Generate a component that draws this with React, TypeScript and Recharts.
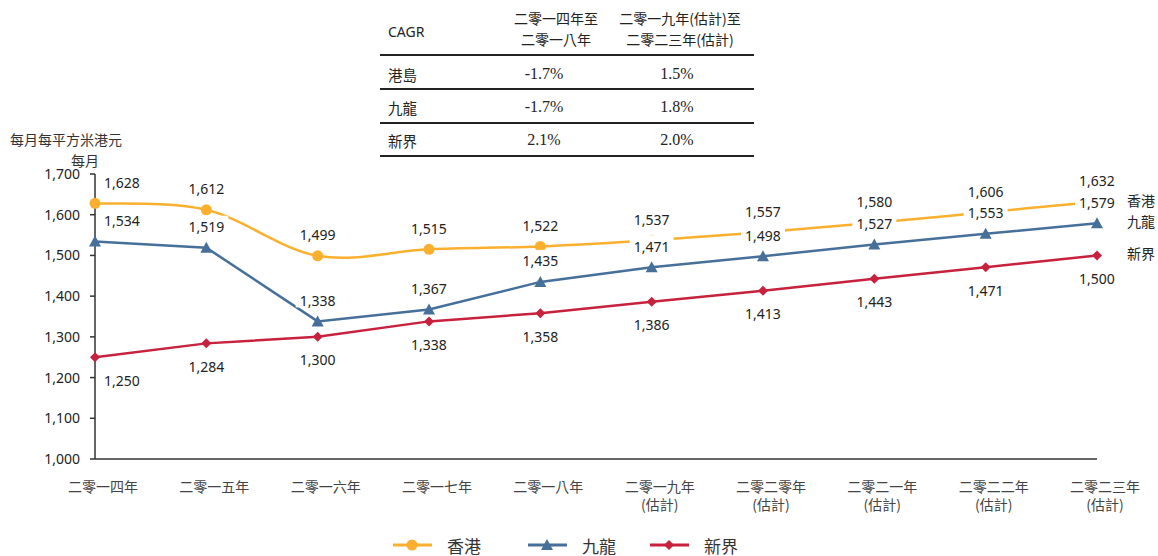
import { LineChart, Line, XAxis, YAxis, LabelList } from 'recharts';

// x categories
const years = ['二零一四年', '二零一五年', '二零一六年', '二零一七年', '二零一八年', '二零一九年', '二零二零年', '二零二一年', '二零二二年', '二零二三年'];
const yearNotes = ['', '', '', '', '', '(估計)', '(估計)', '(估計)', '(估計)', '(估計)'];

// rent, HK$ per sq m per month
const hkIsland = [1628, 1612, 1499, 1515, 1522, 1537, 1557, 1580, 1606, 1632];
const kowloon = [1534, 1519, 1338, 1367, 1435, 1471, 1498, 1527, 1553, 1579];
const newTerritories = [1250, 1284, 1300, 1338, 1358, 1386, 1413, 1443, 1471, 1500];

const yTicks = [1000, 1100, 1200, 1300, 1400, 1500, 1600, 1700];

// CAGR table
const cagrHeads = [['二零一四年至', '二零一八年'], ['二零一九年(估計)至', '二零二三年(估計)']];
const cagrRegions = ['港島', '九龍', '新界'];
const cagr1418 = ['-1.7%', '-1.7%', '2.1%'];
const cagr1923 = ['1.5%', '1.8%', '2.0%'];

const ORANGE = '#FAB02E';
const BLUE = '#46709A';
const RED = '#C7213E';
const CJK = '"Noto Sans CJK TC", "Noto Sans CJK SC", sans-serif';
const NUM = '"Noto Sans", sans-serif';

const data = years.map((year, i) => ({
  year,
  note: yearNotes[i],
  hk: hkIsland[i],
  kln: kowloon[i],
  nt: newTerritories[i],
}));

// excel-style smoothed line (catmull-rom)
function excelCurve(context: any) {
  let pts: number[][] = [];
  return {
    areaStart() {},
    areaEnd() {},
    lineStart() {
      pts = [];
    },
    point(x: number, y: number) {
      pts.push([+x, +y]);
    },
    lineEnd() {
      const n = pts.length;
      if (!n) return;
      context.moveTo(pts[0][0], pts[0][1]);
      for (let i = 0; i < n - 1; i++) {
        const p0 = pts[i - 1] || pts[i];
        const p1 = pts[i];
        const p2 = pts[i + 1];
        const p3 = pts[i + 2] || p2;
        context.bezierCurveTo(
          p1[0] + (p2[0] - p0[0]) / 6,
          p1[1] + (p2[1] - p0[1]) / 6,
          p2[0] - (p3[0] - p1[0]) / 6,
          p2[1] - (p3[1] - p1[1]) / 6,
          p2[0],
          p2[1]
        );
      }
    },
  };
}

const makeLabel = (dy: number, boxed: boolean, name: string) => (props: any) => {
  const px = props.x ?? props.viewBox?.x;
  const py = props.y ?? props.viewBox?.y;
  const { value, index } = props;
  if (px == null || py == null) return null;
  const cx = px + (index === 0 ? 27 : 0);
  const cy = py + dy;
  const last = index === years.length - 1;
  return (
    <g>
      {boxed && <rect x={cx - 22} y={cy - 11} width={44} height={18} fill="#fff" />}
      <text x={cx} y={cy} textAnchor="middle" dominantBaseline="central" fontFamily={NUM} fontSize={14} fill="#222">
        {Number(value).toLocaleString('en-US')}
      </text>
      {last && (
        <text x={px + 30} y={py - 2} dominantBaseline="central" fontFamily={CJK} fontSize={14} fill="#222">
          {name}
        </text>
      )}
    </g>
  );
};

const CircleDot = (props: any) => {
  const { cx, cy, key } = props;
  return <circle key={key} cx={cx} cy={cy} r={5.5} fill={ORANGE} />;
};

const TriangleDot = (props: any) => {
  const { cx, cy, key } = props;
  return <path key={key} d={`M${cx},${cy - 6} L${cx + 6},${cy + 5} L${cx - 6},${cy + 5} Z`} fill={BLUE} />;
};

const DiamondDot = (props: any) => {
  const { cx, cy, key } = props;
  return <path key={key} d={`M${cx},${cy - 5} L${cx + 5},${cy} L${cx},${cy + 5} L${cx - 5},${cy} Z`} fill={RED} />;
};

const YearTick = (props: any) => {
  const { x, y, payload, index } = props;
  const note = yearNotes[index];
  return (
    <g>
      <text x={x + 8} y={y + 25} textAnchor="middle" fontFamily={CJK} fontSize={14} fill="#444">
        {payload.value}
      </text>
      {note && (
        <text x={x + 8} y={y + 43} textAnchor="middle" fontFamily={CJK} fontSize={14} fill="#444">
          {note}
        </text>
      )}
    </g>
  );
};

function CagrTable() {
  const rule = (top: number) => (
    <div style={{ position: 'absolute', left: 380, top, width: 374, height: 2, background: '#222' }} />
  );
  return (
    <>
      <div style={{ position: 'absolute', left: 388, top: 22, fontFamily: NUM, fontSize: 14, color: '#222' }}>CAGR</div>
      {cagrHeads.map((lines, c) => (
        <div
          key={c}
          style={{
            position: 'absolute',
            left: c === 0 ? 496 : 605,
            top: 8,
            width: c === 0 ? 120 : 150,
            textAlign: 'center',
            fontFamily: CJK,
            fontSize: 14,
            lineHeight: '20.5px',
            color: '#222',
          }}
        >
          {lines.map((l) => (
            <div key={l}>{l}</div>
          ))}
        </div>
      ))}
      {rule(54)}
      {cagrRegions.map((r, i) => (
        <div key={r}>
          <div style={{ position: 'absolute', left: 388, top: 65 + i * 33, fontFamily: CJK, fontSize: 14.5, lineHeight: '20px', color: '#222' }}>{r}</div>
          <div style={{ position: 'absolute', left: 494, top: 64 + i * 33, width: 100, textAlign: 'center', fontFamily: '"Liberation Serif", serif', fontSize: 16, lineHeight: '20px', color: '#222' }}>
            {cagr1418[i]}
          </div>
          <div style={{ position: 'absolute', left: 627, top: 64 + i * 33, width: 100, textAlign: 'center', fontFamily: '"Liberation Serif", serif', fontSize: 16, lineHeight: '20px', color: '#222' }}>
            {cagr1923[i]}
          </div>
          {rule(88 + i * 33.5)}
        </div>
      ))}
    </>
  );
}

function ChartLegend() {
  const items = [
    { name: '香港', color: ORANGE, x: 393, dot: <circle cx={412} cy={15} r={5.5} fill={ORANGE} /> },
    { name: '九龍', color: BLUE, x: 528, dot: <path d="M547,9 L553,20 L541,20 Z" fill={BLUE} /> },
    { name: '新界', color: RED, x: 650, dot: <path d="M669,10 L674,15 L669,20 L664,15 Z" fill={RED} /> },
  ];
  return (
    <svg style={{ position: 'absolute', left: 0, top: 530 }} width={1158} height={26}>
      {items.map((it) => (
        <g key={it.name}>
          <line x1={it.x} x2={it.x + 39} y1={15} y2={15} stroke={it.color} strokeWidth={3} />
          {it.dot}
          <text x={it.x + 54} y={15} dominantBaseline="central" fontFamily={CJK} fontSize={17} fill="#333">
            {it.name}
          </text>
        </g>
      ))}
    </svg>
  );
}

export default function App() {
  return (
    <div style={{ position: 'absolute', left: 0, top: 0, width: 1158, height: 556, background: '#fff', overflow: 'hidden' }}>
      <CagrTable />
      <div style={{ position: 'absolute', left: 10, top: 129, fontFamily: CJK, fontSize: 14, color: '#333', lineHeight: '20.5px' }}>每月每平方米港元</div>
      <div style={{ position: 'absolute', left: 71, top: 149.5, fontFamily: CJK, fontSize: 14, color: '#333', lineHeight: '20.5px' }}>每月</div>
      <LineChart width={1158} height={556} data={data} margin={{ top: 174, right: 61, bottom: 47, left: 35 }}>
        <XAxis
          dataKey="year"
          height={50}
          tickLine={false}
          tick={<YearTick />}
          interval={0}
          axisLine={{ stroke: '#333', strokeWidth: 1.5 }}
        />
        <YAxis
          width={60}
          domain={[1000, 1700]}
          ticks={yTicks}
          tickFormatter={(v: number) => v.toLocaleString('en-US')}
          tick={{ fontFamily: NUM, fontSize: 14, fill: '#222' }}
          tickSize={5}
          tickMargin={10}
          tickLine={{ stroke: '#333', strokeWidth: 1.5 }}
          axisLine={{ stroke: '#333', strokeWidth: 1.5 }}
        />
        <Line dataKey="nt" stroke={RED} strokeWidth={2.5} type="linear" dot={<DiamondDot />} activeDot={false} isAnimationActive={false}>
          <LabelList dataKey="nt" content={makeLabel(23, false, '新界')} />
        </Line>
        <Line dataKey="hk" stroke={ORANGE} strokeWidth={2.5} type={excelCurve as any} dot={<CircleDot />} activeDot={false} isAnimationActive={false}>
          <LabelList dataKey="hk" content={makeLabel(-21, false, '香港')} />
        </Line>
        <Line dataKey="kln" stroke={BLUE} strokeWidth={2.5} type="linear" dot={<TriangleDot />} activeDot={false} isAnimationActive={false}>
          <LabelList dataKey="kln" content={makeLabel(-21, true, '九龍')} />
        </Line>
      </LineChart>
      <ChartLegend />
    </div>
  );
}
